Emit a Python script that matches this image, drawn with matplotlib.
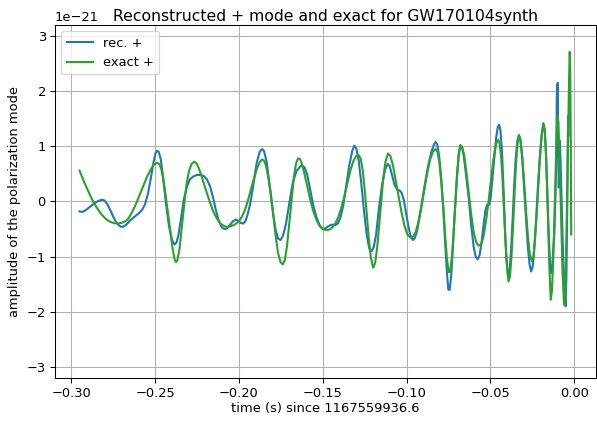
import numpy as np
import matplotlib
matplotlib.use("Agg")
import matplotlib.pyplot as plt

# reconstructed plus polarization, (time, strain / 1e-21)
rec_pts = [
    (-0.2951, -0.18), (-0.2933, -0.19), (-0.2910, -0.15), (-0.2886, -0.09), (-0.2862, -0.03),
    (-0.2838, 0.01), (-0.2819, 0.03), (-0.2803, 0.02), (-0.2785, -0.05), (-0.2767, -0.16),
    (-0.2749, -0.28), (-0.2732, -0.38), (-0.2714, -0.44), (-0.2702, -0.46), (-0.2690, -0.455),
    (-0.2672, -0.42), (-0.2648, -0.34), (-0.2619, -0.27), (-0.2595, -0.21), (-0.2577, -0.15),
    (-0.2560, -0.05), (-0.2542, 0.15), (-0.2524, 0.45), (-0.2509, 0.72), (-0.2497, 0.88),
    (-0.2488, 0.92), (-0.2479, 0.90), (-0.2467, 0.78), (-0.2453, 0.45), (-0.2435, -0.05),
    (-0.2417, -0.45), (-0.2399, -0.70), (-0.2384, -0.78), (-0.2372, -0.74), (-0.2360, -0.60),
    (-0.2345, -0.30), (-0.2328, 0.05), (-0.2310, 0.27), (-0.2292, 0.40), (-0.2274, 0.45),
    (-0.2251, 0.48), (-0.2227, 0.48), (-0.2209, 0.46), (-0.2191, 0.40), (-0.2173, 0.28),
    (-0.2155, 0.08), (-0.2138, -0.15), (-0.2120, -0.35), (-0.2102, -0.47), (-0.2087, -0.50),
    (-0.2072, -0.49), (-0.2054, -0.43), (-0.2036, -0.36), (-0.2019, -0.33), (-0.2004, -0.35),
    (-0.1990, -0.39), (-0.1974, -0.40), (-0.1960, -0.35), (-0.1945, -0.20), (-0.1930, 0.00),
    (-0.1912, 0.35), (-0.1894, 0.70), (-0.1876, 0.90), (-0.1862, 0.95), (-0.1850, 0.91),
    (-0.1835, 0.72), (-0.1817, 0.30), (-0.1799, -0.15), (-0.1782, -0.50), (-0.1767, -0.67),
    (-0.1752, -0.70), (-0.1737, -0.62), (-0.1719, -0.40), (-0.1698, 0.00), (-0.1678, 0.35),
    (-0.1657, 0.55), (-0.1636, 0.63), (-0.1624, 0.65), (-0.1609, 0.62), (-0.1592, 0.48),
    (-0.1574, 0.20), (-0.1556, -0.08), (-0.1538, -0.28), (-0.1520, -0.42), (-0.1504, -0.49),
    (-0.1490, -0.50), (-0.1473, -0.46), (-0.1455, -0.43), (-0.1440, -0.42), (-0.1425, -0.43),
    (-0.1410, -0.40), (-0.1395, -0.30), (-0.1378, -0.08), (-0.1360, 0.28), (-0.1342, 0.65),
    (-0.1324, 0.92), (-0.1312, 1.01), (-0.1300, 0.96), (-0.1286, 0.75), (-0.1271, 0.35),
    (-0.1253, -0.20), (-0.1238, -0.60), (-0.1223, -0.85), (-0.1209, -0.90), (-0.1196, -0.83),
    (-0.1182, -0.60), (-0.1164, -0.10), (-0.1146, 0.30), (-0.1128, 0.58), (-0.1113, 0.68),
    (-0.1101, 0.64), (-0.1087, 0.48), (-0.1072, 0.30), (-0.1057, 0.22), (-0.1042, 0.20),
    (-0.1030, 0.16), (-0.1016, 0.02), (-0.1001, -0.25), (-0.0986, -0.50), (-0.0974, -0.65),
    (-0.0962, -0.70), (-0.0950, -0.66), (-0.0935, -0.50), (-0.0914, -0.12), (-0.0893, 0.28),
    (-0.0873, 0.62), (-0.0852, 0.90), (-0.0837, 1.03), (-0.0826, 1.08), (-0.0816, 1.02),
    (-0.0805, 0.80), (-0.0793, 0.40), (-0.0781, -0.15), (-0.0769, -0.80), (-0.0759, -1.30),
    (-0.0751, -1.60), (-0.0743, -1.60), (-0.0734, -1.35), (-0.0724, -0.85), (-0.0712, -0.15),
    (-0.0700, 0.45), (-0.0689, 0.85), (-0.0680, 1.02), (-0.0669, 0.98), (-0.0659, 0.82),
    (-0.0644, 0.45), (-0.0629, 0.05), (-0.0614, -0.45), (-0.0600, -0.82), (-0.0588, -1.00),
    (-0.0576, -1.05), (-0.0564, -0.97), (-0.0552, -0.72), (-0.0540, -0.40), (-0.0529, -0.15),
    (-0.0519, -0.06), (-0.0508, -0.06), (-0.0499, 0.05), (-0.0490, 0.35), (-0.0478, 0.75),
    (-0.0466, 1.15), (-0.0456, 1.35), (-0.0448, 1.39), (-0.0440, 1.28), (-0.0431, 0.90),
    (-0.0422, 0.25), (-0.0413, -0.50), (-0.0404, -1.05), (-0.0395, -1.35), (-0.0386, -1.28),
    (-0.0377, -0.90), (-0.0368, -0.35), (-0.0359, 0.25), (-0.0350, 0.75), (-0.0339, 1.10),
    (-0.0330, 1.20), (-0.0321, 1.12), (-0.0311, 0.80), (-0.0300, 0.30), (-0.0288, -0.30),
    (-0.0276, -0.85), (-0.0266, -1.15), (-0.0257, -1.27), (-0.0248, -1.18), (-0.0239, -0.90),
    (-0.0228, -0.35), (-0.0217, 0.25), (-0.0205, 0.80), (-0.0194, 1.20), (-0.0184, 1.40),
    (-0.0176, 1.30), (-0.0168, 0.80), (-0.0160, 0.10), (-0.0152, -0.60), (-0.0144, -1.15),
    (-0.0137, -1.30), (-0.0131, -1.15), (-0.0125, -0.85), (-0.0119, -0.60), (-0.0113, 0.00),
    (-0.0108, 0.60), (-0.0104, 1.90), (-0.0101, 2.12), (-0.0098, 2.15), (-0.0095, 0.90),
    (-0.0092, 0.25), (-0.0089, 0.80), (-0.0086, 1.10), (-0.0081, 0.70), (-0.0077, 0.20),
    (-0.0071, -0.50), (-0.0065, -1.10), (-0.0058, -1.60), (-0.0052, -1.90), (-0.0047, -1.40),
    (-0.0042, -0.20), (-0.0039, 1.00), (-0.0036, 1.55), (-0.0033, 1.20),
]

# exact plus polarization, (time, strain / 1e-21)
exact_pts = [
    (-0.2951, 0.56), (-0.2934, 0.43), (-0.2916, 0.30), (-0.2898, 0.18), (-0.2880, 0.06),
    (-0.2862, -0.04), (-0.2844, -0.13), (-0.2821, -0.23), (-0.2797, -0.31), (-0.2773, -0.36),
    (-0.2749, -0.39), (-0.2726, -0.40), (-0.2702, -0.39), (-0.2678, -0.36), (-0.2660, -0.31),
    (-0.2642, -0.22), (-0.2619, -0.08), (-0.2595, 0.10), (-0.2571, 0.28), (-0.2548, 0.45),
    (-0.2524, 0.59), (-0.2506, 0.67), (-0.2488, 0.70), (-0.2476, 0.68), (-0.2464, 0.60),
    (-0.2452, 0.42), (-0.2440, 0.18), (-0.2426, -0.15), (-0.2411, -0.50), (-0.2396, -0.85),
    (-0.2384, -1.05), (-0.2375, -1.10), (-0.2366, -1.05), (-0.2354, -0.85), (-0.2342, -0.50),
    (-0.2328, -0.10), (-0.2313, 0.30), (-0.2298, 0.55), (-0.2283, 0.68), (-0.2268, 0.72),
    (-0.2253, 0.69), (-0.2239, 0.60), (-0.2221, 0.44), (-0.2203, 0.26), (-0.2179, 0.04),
    (-0.2156, -0.16), (-0.2132, -0.31), (-0.2108, -0.41), (-0.2084, -0.45), (-0.2067, -0.46),
    (-0.2049, -0.45), (-0.2025, -0.42), (-0.2001, -0.36), (-0.1983, -0.28), (-0.1965, -0.16),
    (-0.1948, 0.00), (-0.1930, 0.20), (-0.1912, 0.40), (-0.1894, 0.58), (-0.1877, 0.71),
    (-0.1862, 0.76), (-0.1850, 0.74), (-0.1838, 0.64), (-0.1826, 0.45), (-0.1812, 0.18),
    (-0.1797, -0.20), (-0.1782, -0.60), (-0.1767, -0.93), (-0.1752, -1.10), (-0.1738, -1.14),
    (-0.1726, -1.06), (-0.1713, -0.80), (-0.1700, -0.40), (-0.1686, 0.05), (-0.1672, 0.45),
    (-0.1660, 0.68), (-0.1648, 0.78), (-0.1636, 0.77), (-0.1624, 0.68), (-0.1609, 0.50),
    (-0.1591, 0.25), (-0.1574, 0.02), (-0.1556, -0.18), (-0.1538, -0.33), (-0.1520, -0.44),
    (-0.1500, -0.50), (-0.1479, -0.52), (-0.1461, -0.51), (-0.1443, -0.47), (-0.1425, -0.40),
    (-0.1407, -0.28), (-0.1390, -0.12), (-0.1372, 0.08), (-0.1354, 0.32), (-0.1336, 0.55),
    (-0.1318, 0.73), (-0.1301, 0.82), (-0.1286, 0.84), (-0.1274, 0.78), (-0.1262, 0.58),
    (-0.1250, 0.22), (-0.1238, -0.22), (-0.1226, -0.65), (-0.1214, -1.00), (-0.1200, -1.20),
    (-0.1188, -1.12), (-0.1176, -0.85), (-0.1164, -0.45), (-0.1152, -0.02), (-0.1140, 0.40),
    (-0.1126, 0.72), (-0.1111, 0.87), (-0.1096, 0.82), (-0.1081, 0.65), (-0.1066, 0.40),
    (-0.1048, 0.10), (-0.1030, -0.20), (-0.1012, -0.45), (-0.0995, -0.60), (-0.0977, -0.65),
    (-0.0962, -0.64), (-0.0947, -0.56), (-0.0932, -0.40), (-0.0914, -0.14), (-0.0896, 0.18),
    (-0.0879, 0.48), (-0.0861, 0.75), (-0.0843, 0.90), (-0.0828, 0.95), (-0.0816, 0.90),
    (-0.0805, 0.72), (-0.0793, 0.35), (-0.0781, -0.10), (-0.0769, -0.65), (-0.0759, -1.05),
    (-0.0749, -1.28), (-0.0741, -1.28), (-0.0731, -1.05), (-0.0721, -0.65), (-0.0710, -0.10),
    (-0.0699, 0.45), (-0.0689, 0.85), (-0.0678, 1.02), (-0.0668, 0.98), (-0.0657, 0.85),
    (-0.0644, 0.55), (-0.0629, 0.15), (-0.0614, -0.25), (-0.0600, -0.55), (-0.0585, -0.74),
    (-0.0570, -0.80), (-0.0555, -0.78), (-0.0540, -0.62), (-0.0526, -0.35), (-0.0511, 0.00),
    (-0.0496, 0.40), (-0.0484, 0.72), (-0.0472, 0.95), (-0.0462, 1.08), (-0.0454, 1.12),
    (-0.0446, 1.06), (-0.0437, 0.85), (-0.0428, 0.42), (-0.0419, -0.15), (-0.0410, -0.75),
    (-0.0401, -1.20), (-0.0392, -1.45), (-0.0383, -1.35), (-0.0374, -0.98), (-0.0365, -0.45),
    (-0.0356, 0.15), (-0.0347, 0.70), (-0.0338, 1.05), (-0.0330, 1.20), (-0.0321, 1.12),
    (-0.0311, 0.85), (-0.0300, 0.40), (-0.0288, -0.15), (-0.0276, -0.65), (-0.0265, -0.95),
    (-0.0253, -1.08), (-0.0244, -1.00), (-0.0235, -0.72), (-0.0224, -0.25), (-0.0214, 0.30),
    (-0.0204, 0.85), (-0.0194, 1.22), (-0.0184, 1.42), (-0.0176, 1.30), (-0.0168, 0.85),
    (-0.0161, 0.20), (-0.0154, -0.60), (-0.0147, -1.30), (-0.0140, -1.78), (-0.0133, -1.62),
    (-0.0125, -1.05), (-0.0119, -0.40), (-0.0113, 0.30), (-0.0107, 1.00), (-0.0101, 1.55),
    (-0.0095, 1.45), (-0.0089, 0.95), (-0.0083, 0.25), (-0.0077, -0.50), (-0.0070, -1.25),
    (-0.0063, -1.75), (-0.0059, -1.87), (-0.0054, -1.60), (-0.0048, -0.85), (-0.0042, 0.10),
    (-0.0036, 1.20), (-0.0031, 2.20), (-0.0027, 2.71), (-0.0024, 2.40), (-0.0021, 1.20),
    (-0.0018, -0.60),
]

scale = 1e-21
rec_t, rec_h = np.array(rec_pts).T
exact_t, exact_h = np.array(exact_pts).T

fig, ax = plt.subplots(figsize=(597 / 94, 421 / 94), dpi=94)
ax.plot(rec_t, rec_h * scale, color="tab:blue", lw=1.6, label="rec. +")
ax.plot(exact_t, exact_h * scale, color="tab:green", lw=1.6, label="exact +")
ax.set_ylim(-3.2e-21, 3.2e-21)
ax.grid(True)
ax.legend(loc="upper left")
ax.set_title("Reconstructed + mode and exact for GW170104synth", pad=3)
ax.set_xlabel("time (s) since 1167559936.6", labelpad=1)
ax.set_ylabel("amplitude of the polarization mode")
fig.subplots_adjust(left=0.092, right=0.998, top=0.941, bottom=0.102)
fig.savefig("out.png")
